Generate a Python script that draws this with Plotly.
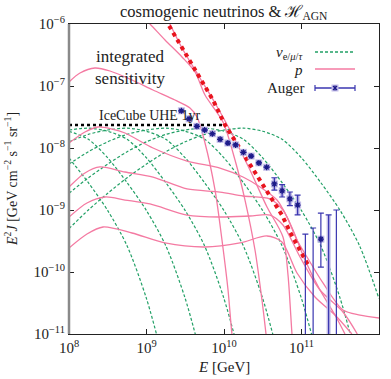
import plotly.graph_objects as go
import numpy as np

# all values are log10
# cosmogenic neutrino fluxes (green dashed)
nu_logE = [
    [8.0, 8.25, 8.5, 8.75, 9.0, 9.25, 9.5, 9.75, 10.0, 10.25, 10.5, 10.75, 11.0, 11.25, 11.5, 11.75, 12.0],
    [8.0, 8.25, 8.5, 8.75, 9.0, 9.25, 9.5, 9.75, 10.0, 10.25, 10.5, 10.75, 11.0, 11.25, 11.5, 11.75],
    [8.0, 8.25, 8.5, 8.75, 9.0, 9.25, 9.5, 9.75, 10.0, 10.25, 10.5, 10.75, 11.0, 11.25],
    [8.0, 8.25, 8.5, 8.75, 9.0, 9.25, 9.5, 9.75, 10.0, 10.25, 10.5, 10.75],
    [8.0, 8.25, 8.5, 8.75, 9.0, 9.25, 9.5, 9.75, 10.0, 10.25],
    [8.0, 8.25, 8.5, 8.75, 9.0, 9.25, 9.5, 9.75],
    [8.0, 8.25, 8.5, 8.75, 9.0, 9.25],
]
nu_logF = [
    [-9.30, -9.00, -8.73, -8.48, -8.26, -8.06, -7.90, -7.78, -7.71, -7.68, -7.73, -7.86, -8.16, -8.56, -9.01, -9.58, -10.43],
    [-8.73, -8.48, -8.26, -8.06, -7.90, -7.78, -7.71, -7.68, -7.73, -7.86, -8.16, -8.56, -9.01, -9.58, -10.43, -11.58],
    [-8.26, -8.06, -7.90, -7.78, -7.71, -7.68, -7.73, -7.86, -8.16, -8.56, -9.01, -9.58, -10.43, -11.58],
    [-7.90, -7.78, -7.71, -7.68, -7.73, -7.86, -8.16, -8.56, -9.01, -9.58, -10.43, -11.58],
    [-7.71, -7.68, -7.73, -7.86, -8.16, -8.56, -9.01, -9.58, -10.43, -11.58],
    [-7.73, -7.86, -8.16, -8.56, -9.01, -9.58, -10.43, -11.58],
    [-8.16, -8.56, -9.01, -9.58, -10.43, -11.58],
]

# proton fluxes (pink)
p_logE = [
    [8.0, 8.142, 8.335, 8.529, 8.813, 9.084, 9.368, 9.561, 9.652, 9.755, 9.884, 9.974, 10.052, 10.103, 10.129],
    [8.0, 8.206, 8.374, 8.555, 8.723, 9.084, 9.523, 9.948, 10.245, 10.465, 10.684, 10.813, 10.942, 11.071, 11.277, 11.535, 11.755, 12.0],
    [8.0, 8.206, 8.40, 8.723, 9.084, 9.523, 9.948, 10.245, 10.594, 10.761, 10.890, 11.045, 11.239, 11.432, 11.561],
    [8.0, 8.232, 8.465, 8.723, 9.045, 9.523, 9.948, 10.335, 10.594, 10.761, 10.981, 11.239, 11.535, 11.72],
    [8.0, 8.232, 8.439, 8.813, 9.239, 9.755, 10.206, 10.555, 10.748, 10.942, 11.174, 11.432, 11.65],
    [8.916, 9.045, 9.239, 9.458, 9.626, 9.755, 9.987, 10.142, 10.271, 10.40, 10.49, 10.542, 10.555],
    [9.277, 9.458, 9.690, 9.884, 10.077, 10.335, 10.555, 10.761, 10.826, 10.877, 10.890],
]
p_logF = [
    [-6.935, -6.790, -6.710, -6.758, -6.903, -7.065, -7.226, -7.355, -7.50, -7.919, -8.677, -9.484, -10.290, -11.0, -11.177],
    [-7.919, -7.742, -7.661, -7.694, -7.758, -8.0, -8.210, -8.323, -8.468, -8.629, -8.839, -9.113, -9.484, -9.758, -10.177, -10.613, -10.694, -10.742],
    [-8.629, -8.403, -8.306, -8.387, -8.468, -8.661, -8.710, -8.774, -8.823, -9.0, -9.323, -9.806, -10.290, -10.694, -11.0],
    [-9.113, -8.887, -8.790, -8.839, -8.903, -9.081, -9.113, -9.097, -9.081, -9.242, -9.758, -10.290, -10.645, -11.0],
    [-9.613, -9.387, -9.274, -9.371, -9.532, -9.597, -9.532, -9.419, -9.516, -10.016, -10.403, -10.694, -11.0],
    [-5.84, -6.0, -6.258, -6.532, -6.774, -7.145, -7.581, -8.194, -8.839, -9.645, -10.452, -11.0, -11.177],
    [-5.935, -6.387, -6.871, -7.274, -7.710, -8.355, -8.952, -9.435, -10.048, -11.0, -11.177],
]

# bound (red dotted)
bound_logE = [9.239, 9.858, 10.013, 10.245, 10.465, 10.748, 10.852, 11.006, 11.084]
bound_logF = [-5.919, -7.226, -7.629, -8.081, -8.516, -9.081, -9.355, -9.694, -9.887]

# IceCube UHE 1yr integrated sensitivity
ic_logE = [8.0, 10.0]
ic_logF = [-7.63, -7.63]

# Auger spectrum (last points: only upper ends visible)
auger_logE = [9.45, 9.55, 9.65, 9.75, 9.85, 9.95, 10.05, 10.15, 10.25, 10.35, 10.45,
              10.55, 10.65, 10.75, 10.85, 10.95, 11.05, 11.15, 11.25, 11.35, 11.45]
auger_logF = [-7.40, -7.53, -7.65, -7.71, -7.77, -7.86, -7.92, -7.95, -8.07, -8.13, -8.24,
              -8.31, -8.58, -8.69, -8.82, -8.92, -13.0, -13.0, -9.47, -13.0, -13.0]
auger_hi = [-7.40, -7.53, -7.65, -7.71, -7.77, -7.86, -7.92, -7.95, -8.07, -8.13, -8.24,
            -8.31, -8.48, -8.59, -8.71, -8.76, -9.39, -9.29, -9.05, -9.08, -9.00]
auger_lo = [-7.40, -7.53, -7.65, -7.71, -7.77, -7.86, -7.92, -7.95, -8.07, -8.13, -8.24,
            -8.31, -8.68, -8.79, -8.93, -9.08, -13.0, -13.0, -9.92, -13.0, -13.0]
auger_sys = [0, 0, 0, 0, 0, 0, 0, 0, 0, 0, 0, 1, 1, 1, 1, 1, 0, 0, 0, 1, 0]

GREEN = '#22a066'
PINK = '#f47aa2'
RED = '#e8141e'
BLUE = '#3a36b0'
NAVY = '#1c1a88'
LAV = '#c2bce8'
FONT = 'Liberation Serif'

fig = go.Figure()

for le, lf in zip(nu_logE, nu_logF):
    fig.add_trace(go.Scatter(x=10**np.array(le), y=10**np.array(lf), mode='lines',
                             line=dict(color=GREEN, width=1.2, dash='3px,2px', shape='spline', smoothing=0.8)))

for le, lf in zip(p_logE, p_logF):
    fig.add_trace(go.Scatter(x=10**np.array(le), y=10**np.array(lf), mode='lines',
                             line=dict(color=PINK, width=1.3, shape='spline', smoothing=0.8)))

fig.add_trace(go.Scatter(x=10**np.array(ic_logE), y=10**np.array(ic_logF), mode='lines',
                         line=dict(color='black', width=2.5, dash='dot')))

fig.add_trace(go.Scatter(x=10**np.array(bound_logE), y=10**np.array(bound_logF), mode='lines',
                         line=dict(color=RED, width=4, dash='dot')))

aE = 10**np.array(auger_logE)
aF = 10**np.array(auger_logF)
plus = 10**np.array(auger_hi) - aF
minus = aF - 10**np.array(auger_lo)
sys = np.array(auger_sys)

fig.add_trace(go.Scatter(x=aE, y=aF, mode='markers',
                         marker=dict(symbol='square', size=7, color=LAV, line=dict(width=0)),
                         error_y=dict(type='data', array=plus * sys, arrayminus=minus * sys,
                                      color=LAV, thickness=4, width=0)))
fig.add_trace(go.Scatter(x=aE, y=aF, mode='markers',
                         marker=dict(symbol='asterisk-open', size=5, color=NAVY,
                                     line=dict(color=NAVY, width=1.3)),
                         error_y=dict(type='data', array=plus, arrayminus=minus,
                                      color=BLUE, thickness=1.2, width=3)))


def px(x, y):
    return (x - 69) / 310, (334 - y) / 310


shapes = []
# legend samples
for yy, col, dash in [(52, GREEN, '3px,2px'), (69, PINK, 'solid'), (88, BLUE, 'solid')]:
    x0, y0 = px(315, yy)
    x1, _ = px(355, yy)
    shapes.append(dict(type='line', xref='paper', yref='paper', x0=x0, x1=x1, y0=y0, y1=y0,
                       line=dict(color=col, width=1.3, dash=dash)))
for cx in [315, 355]:
    x0, y0 = px(cx, 85)
    _, y1 = px(cx, 91)
    shapes.append(dict(type='line', xref='paper', yref='paper', x0=x0, x1=x0, y0=y0, y1=y1,
                       line=dict(color=BLUE, width=1.2)))
x0, y0 = px(331.5, 91.5)
x1, y1 = px(338.5, 84.5)
shapes.append(dict(type='rect', xref='paper', yref='paper', x0=x0, x1=x1, y0=y0, y1=y1,
                   fillcolor=LAV, line=dict(width=0)))
for a, b, c, d in [(333, 86, 337, 90), (333, 90, 337, 86), (335, 85.5, 335, 90.5)]:
    xa, ya = px(a, b)
    xb, yb = px(c, d)
    shapes.append(dict(type='line', xref='paper', yref='paper', x0=xa, x1=xb, y0=ya, y1=yb,
                       line=dict(color=NAVY, width=1.3)))
# heavier grey left axis
shapes.append(dict(type='line', xref='paper', yref='paper', x0=0, x1=0, y0=0, y1=1,
                   line=dict(color='#8a8a8a', width=2.5)))

annotations = []


def label(text, x, y, size, anchor='center', angle=0):
    ax, ay = px(x, y)
    annotations.append(dict(text=text, xref='paper', yref='paper', x=ax, y=ay, showarrow=False,
                            xanchor=anchor, yanchor='middle', textangle=angle,
                            font=dict(family=FONT, size=size, color='#222')))


label('cosmogenic neutrinos &amp; ℋ<sub>AGN</sub>', 224, 12, 16.5)
label('integrated', 130, 56, 17)
label('sensitivity', 130, 78, 17)
label('IceCube UHE 1yr', 149, 115, 14)
label('<i>ν</i><sub>e/<i>μ</i>/<i>τ</i></sub>', 305, 53, 15, 'right')
label('<i>p</i>', 305, 70, 15, 'right')
label('Auger', 307, 88, 15, 'right')
label('<i>E</i> [GeV]', 224, 367, 15)
label('<i>E</i><sup>2</sup><i>J</i> [GeV cm<sup>−2</sup> s<sup>−1</sup> sr<sup>−1</sup>]', 11, 179, 14,
      angle=-90)

xt = [8, 9, 10, 11, 12]
yt = [-11, -10, -9, -8, -7, -6]

axis_common = dict(type='log', showgrid=False, zeroline=False, ticks='inside', ticklen=5,
                   tickcolor='#222', showline=True, linecolor='#222', linewidth=1, mirror='ticks',
                   tickfont=dict(family=FONT, size=15, color='#222'))

fig.update_layout(
    width=391, height=379,
    margin=dict(l=69, r=12, t=24, b=45),
    paper_bgcolor='white', plot_bgcolor='white',
    showlegend=False,
    xaxis=dict(range=[8, 12], tickvals=[10.0**v for v in xt],
               ticktext=['10<sup>%d</sup>' % v for v in xt], **axis_common),
    yaxis=dict(range=[-11, -6], tickvals=[10.0**v for v in yt],
               ticktext=['10<sup>−%d</sup>' % -v for v in yt], **axis_common),
    shapes=shapes,
    annotations=annotations,
)

# page body has a default margin; drop it so the figure fills the window
fig.write_html("out.html", config={'displayModeBar': False},
               post_script="document.body.style.margin='0px';")
